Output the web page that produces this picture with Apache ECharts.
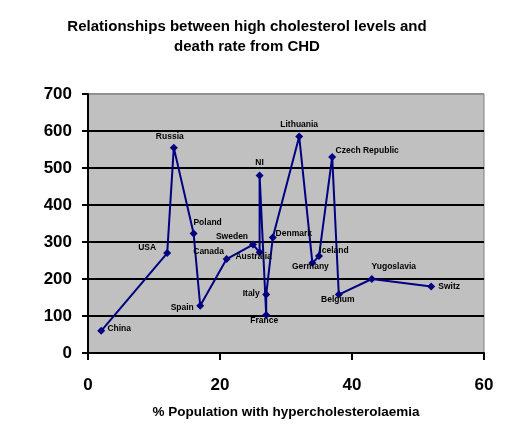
<!DOCTYPE html>
<html>
<head>
<meta charset="utf-8">
<script src="https://cdn.jsdelivr.net/npm/echarts@6/dist/echarts.min.js"></script>
<style>
html,body{margin:0;padding:0;background:#fff;}
#c{width:511px;height:437px;}
</style>
</head>
<body>
<div id="c"></div>
<script>
var countries = ["China","USA","Russia","Poland","Spain","Canada","Sweden","Australia","NI","France","Italy","Denmark","Lithuania","Germany","Iceland","Czech Republic","Belgium","Yugoslavia","Switz"];
var pctHyper = [2,12,13,16,17,21,25,26,26,27,27,28,32,34,35,37,38,43,52];
var deathRate = [60,270,555,323,128,254,293,272,480,103,158,312,585,243,262,530,158,200,180];
var yTicks = [0,100,200,300,400,500,600,700];
var xTicks = [0,20,40,60];
var labelOffsets = [[18,-2],[-20,-5],[-4,-11],[14,-11],[-18,2],[-18,-7],[-21,-8],[-6,4],[0,-13],[-2,6],[-15,-1],[21,-4],[0,-12],[-2,4],[15,-5],[35,-6],[-1,5],[22,-12],[18,0]];

var data = countries.map(function(n,i){
  return {name:n, value:[pctHyper[i], deathRate[i]],
    label:{offset:labelOffsets[i]}};
});

var chart = echarts.init(document.getElementById('c'));
chart.setOption({
  animation:false,
  backgroundColor:'#fff',
  title:{
    text:'Relationships between high cholesterol levels and\ndeath rate from CHD',
    left:242, top:12, textAlign:'center',
    textStyle:{fontFamily:'Liberation Sans, Arial',fontWeight:'bold',fontSize:15,lineHeight:20,color:'#000'}
  },
  grid:{left:88,right:27,top:94,bottom:84,show:true,backgroundColor:'#c0c0c0',borderColor:'#808080',borderWidth:1},
  xAxis:{
    type:'value',min:0,max:60,interval:20,
    name:'% Population with hypercholesterolaemia',nameLocation:'middle',nameGap:52,
    nameTextStyle:{fontFamily:'Liberation Sans, Arial',fontWeight:'bold',fontSize:13.5,color:'#000'},
    axisLine:{show:true,onZero:false,lineStyle:{color:'#000',width:2}},
    axisTick:{show:true,length:7,lineStyle:{color:'#000',width:2}},
    axisLabel:{margin:24,fontFamily:'Liberation Sans, Arial',fontWeight:'bold',fontSize:17,color:'#000',
      formatter:function(v){return xTicks.indexOf(v)>=0?String(v):'';}},
    splitLine:{show:false}
  },
  yAxis:{
    type:'value',min:0,max:700,interval:100,
    axisLine:{show:true,lineStyle:{color:'#000',width:2}},
    axisTick:{show:true,length:6,lineStyle:{color:'#000',width:2}},
    axisLabel:{margin:16,fontFamily:'Liberation Sans, Arial',fontWeight:'bold',fontSize:17,color:'#000',
      formatter:function(v){return yTicks.indexOf(v)>=0?String(v):'';}},
    splitLine:{show:true,lineStyle:{color:['#000','#000','#000','#000','#000','#000','#000','#909090'],width:2}}
  },
  series:[{
    type:'line',
    data:data,
    symbol:'diamond',symbolSize:8,
    lineStyle:{color:'#000080',width:2},
    itemStyle:{color:'#000080'},
    label:{show:true,position:'inside',formatter:'{b}',
      fontFamily:'Liberation Sans, Arial',fontWeight:'bold',fontSize:8.5,color:'#000'}
  }]
});
</script>
</body>
</html>
